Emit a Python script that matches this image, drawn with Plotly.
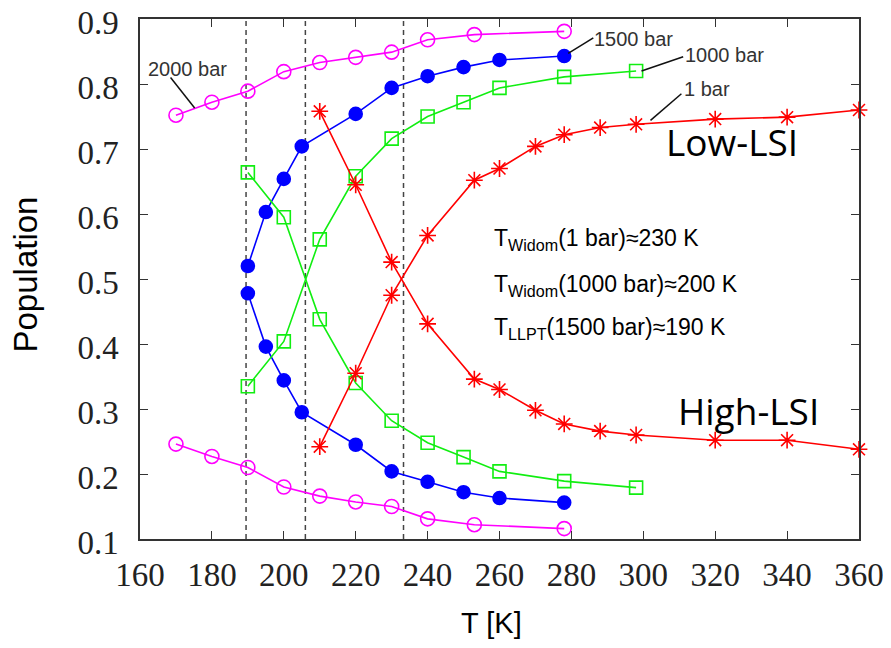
import plotly.graph_objects as go

# ---------------- data ----------------
T_2000 = [170, 180, 190, 200, 210, 220, 230, 240, 253, 278]
low_2000 = [0.752, 0.772, 0.789, 0.819, 0.833, 0.841, 0.849, 0.868, 0.876, 0.881]
high_2000 = [0.246, 0.227, 0.210, 0.180, 0.166, 0.157, 0.150, 0.131, 0.122, 0.116]

T_1500 = [190, 195, 200, 205, 220, 230, 240, 250, 260, 278]
low_1500 = [0.520, 0.603, 0.654, 0.704, 0.754, 0.794, 0.812, 0.826, 0.837, 0.843]
high_1500 = [0.478, 0.396, 0.344, 0.295, 0.245, 0.204, 0.188, 0.172, 0.163, 0.156]

T_1000 = [190, 200, 210, 220, 230, 240, 250, 260, 278, 298]
low_1000 = [0.335, 0.404, 0.561, 0.658, 0.716, 0.750, 0.772, 0.794, 0.811, 0.820]
high_1000 = [0.664, 0.595, 0.438, 0.340, 0.282, 0.248, 0.226, 0.204, 0.189, 0.179]

T_1 = [210, 220, 230, 240, 253, 260, 270, 278, 288, 298, 320, 340, 360]
low_1 = [0.242, 0.355, 0.475, 0.567, 0.652, 0.670, 0.704, 0.722, 0.733, 0.738, 0.746, 0.749, 0.760]
high_1 = [0.758, 0.645, 0.526, 0.431, 0.346, 0.330, 0.298, 0.277, 0.266, 0.260, 0.252, 0.252, 0.238]

dashed_T = [189.5, 206, 233.3]

x_ticks = [160, 180, 200, 220, 240, 260, 280, 300, 320, 340, 360]
y_ticks = [0.1, 0.2, 0.3, 0.4, 0.5, 0.6, 0.7, 0.8, 0.9]

# ---------------- figure ----------------
fig = go.Figure()

def add_series(T, vals, color, symbol, size, lw=1.6):
    fig.add_trace(go.Scatter(
        x=T, y=vals, mode="lines+markers",
        line=dict(color=color, width=lw),
        marker=dict(symbol=symbol, size=size, color=color,
                    line=dict(color=color, width=1.6)),
        showlegend=False, hoverinfo="skip", cliponaxis=False))

for vals in (low_2000, high_2000):
    add_series(T_2000, vals, "#ff00ff", "circle-open", 14)
for vals in (low_1500, high_1500):
    add_series(T_1500, vals, "#0000ff", "circle", 13)
for vals in (low_1000, high_1000):
    add_series(T_1000, vals, "#11ee11", "square-open", 13)
for vals in (low_1, high_1):
    add_series(T_1, vals, "#ff0000", "asterisk-open", 14)

shapes = []
for t in dashed_T:
    shapes.append(dict(type="line", xref="x", yref="y", x0=t, x1=t, y0=0.1, y1=0.9,
                       line=dict(color="#444444", width=1.5, dash="5px,4px"), layer="below"))

# leader lines for pressure labels (pointer decoration)
leaders = [
    (168.5, 0.810, 175.2, 0.763),
    (286.1, 0.871, 279.1, 0.847),
    (311.1, 0.842, 299.5, 0.820),
    (310.6, 0.785, 302.0, 0.744),
]
for x0, y0, x1, y1 in leaders:
    shapes.append(dict(type="line", xref="x", yref="y", x0=x0, y0=y0, x1=x1, y1=y1,
                       line=dict(color="#111111", width=1.5)))

ann = []
lab_font = dict(family="Liberation Sans, Arial, sans-serif", size=20, color="#333333")
for txt, x, y in [("2000 bar", 173.1, 0.823), ("1500 bar", 297.4, 0.869),
                  ("1000 bar", 322.6, 0.845), ("1 bar", 317.8, 0.792)]:
    ann.append(dict(text=txt, x=x, y=y, xref="x", yref="y", showarrow=False,
                    font=lab_font, xanchor="center", yanchor="middle"))

big_font = dict(family="Open Sans, sans-serif", size=37, color="black")
ann.append(dict(text="Low-LSI", x=324.7, y=0.712, xref="x", yref="y", showarrow=False,
                font=big_font, xanchor="center", yanchor="middle"))
ann.append(dict(text="High-LSI", x=329.4, y=0.298, xref="x", yref="y", showarrow=False,
                font=big_font, xanchor="center", yanchor="middle"))

t_font = dict(family="Liberation Sans, Arial, sans-serif", size=23, color="black")
for txt, y in [("T<sub>Widom</sub>(1 bar)≈230 K", 0.561),
               ("T<sub>Widom</sub>(1000 bar)≈200 K", 0.490),
               ("T<sub>LLPT</sub>(1500 bar)≈190 K", 0.424)]:
    ann.append(dict(text=txt, x=258.0, y=y, xref="x", yref="y", showarrow=False,
                    font=t_font, xanchor="left", yanchor="middle"))

ann.append(dict(text="T [K]", x=0.489, y=-0.161, xref="paper", yref="paper",
                showarrow=False,
                font=dict(family="Liberation Sans, Arial, sans-serif", size=29, color="black"),
                xanchor="center", yanchor="middle"))
ann.append(dict(text="Population", x=-0.159, y=0.508, xref="paper", yref="paper",
                showarrow=False,
                font=dict(family="Liberation Sans, Arial, sans-serif", size=33, color="black"),
                textangle=-90, xanchor="center", yanchor="middle"))

tick_font = dict(family="Liberation Serif, Times New Roman, serif", size=33, color="#222222")

# the page body adds an 8px offset; figure sized so the plot area lands where the reference has it
fig.update_layout(
    width=875, height=632,
    margin=dict(l=132, r=24, t=11, b=101, autoexpand=False),
    paper_bgcolor="white", plot_bgcolor="white",
    shapes=shapes, annotations=ann,
    xaxis=dict(range=[160, 360], tickvals=x_ticks, ticktext=[str(v) for v in x_ticks],
               ticks="inside", ticklen=8, tickwidth=1.3, tickcolor="#333333",
               showline=True, linecolor="#333333", linewidth=1.5, mirror="ticks",
               showgrid=False, zeroline=False, tickfont=tick_font, ticklabelstandoff=6,
               ticklabeloverflow="allow", automargin=False),
    yaxis=dict(range=[0.1, 0.9], tickvals=y_ticks, ticktext=[f"{v:.1f}" for v in y_ticks],
               ticks="inside", ticklen=8, tickwidth=1.3, tickcolor="#333333",
               showline=True, linecolor="#333333", linewidth=1.5, mirror="ticks",
               showgrid=False, zeroline=False, tickfont=tick_font, ticklabelstandoff=13,
               ticklabelshift=3, ticklabeloverflow="allow", automargin=False),
)

fig.write_html("out.html")
